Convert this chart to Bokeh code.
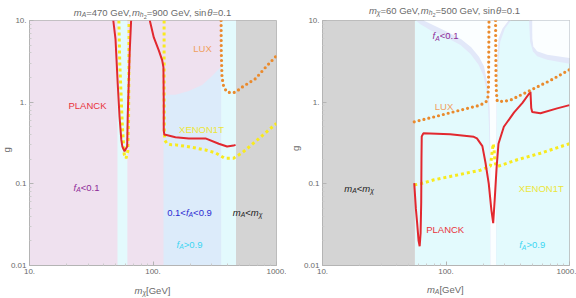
import math

from bokeh.plotting import figure
from bokeh.models import FixedTicker, CustomJSTickFormatter
from bokeh.core.properties import value
from bokeh.layouts import row
from bokeh.embed import file_html
from bokeh.resources import INLINE

# ---------------- axis ticks ----------------
x_ticks = [10, 100, 1000]
x_tick_labels = ["10.", "100.", "1000."]
y_ticks = [0.01, 0.1, 1, 10]
y_tick_labels = ["0.01", "0.1", "1.", "10."]

# ---------------- left panel: scan in m_chi ----------------
left_mA = 470
left_pole_band = [51.6, 62.0]          # f_A>0.9 sliver at the h1 pole
left_mixed_x = [121.6, 152, 195, 250, 301, 341, 356]
left_mixed_top = [1.23, 1.23, 1.37, 1.62, 2.09, 2.54, 2.7]
left_high_band = [356, 470]

left_planck_a_x = [47.7, 49.7, 51.8, 53.6, 55.4, 56.5, 58.8, 61.8, 62.4, 63.6, 64.8, 66.5]
left_planck_a_y = [10, 5.93, 1.68, 0.66, 0.345, 0.286, 0.25, 0.286, 0.66, 1.68, 4.28, 10]
left_planck_b_x = [94.2, 101.5, 111.4, 118.6, 121.5, 122.2, 122.2, 123.5, 126, 152, 195, 266, 341, 398, 449, 466]
left_planck_b_y = [10, 6.2, 4.3, 3.27, 2.68, 1.0, 0.45, 0.40, 0.40, 0.372, 0.36, 0.36, 0.31, 0.286, 0.294, 0.30]

left_xenon_a_x = [52.9, 53.8, 54.7, 56.5, 58.5, 60.5, 62.5, 63.4, 63.8, 64.0]
left_xenon_a_y = [10, 3.0, 1.68, 0.5, 0.23, 0.205, 0.25, 0.6, 2.5, 10]
left_xenon_b_x = [123, 123, 123.5, 125, 130, 142, 152, 194, 266, 320, 379, 449, 527, 676, 1000]
left_xenon_b_y = [10, 1.0, 0.42, 0.34, 0.31, 0.30, 0.30, 0.285, 0.26, 0.24, 0.206, 0.206, 0.24, 0.33, 0.55]

left_lux_x = [356, 357, 362, 374, 398, 437, 468, 527, 676, 819, 1000]
left_lux_y = [10, 4.3, 2.03, 1.53, 1.33, 1.30, 1.33, 1.53, 1.94, 2.69, 3.7]

# ---------------- right panel: scan in m_A ----------------
right_mchi_edge = 56
right_funnel_band_x = [57, 62, 75, 99, 131, 158, 183, 201, 213, 219, 223, 226, 228,
                       255, 257, 259, 265, 275, 300, 335]
right_funnel_band_y = [10, 9.0, 7.6, 6.3, 5.0, 3.9, 2.9, 2.1, 1.4, 0.9, 0.5, 0.2, 0.01,
                       0.01, 0.5, 1.5, 3.0, 5.5, 8.0, 10]
right_funnel_x = [66, 80, 102, 133, 160, 185, 203, 214, 222, 226, 228, 229,
                  254, 255, 256, 257, 261, 266, 287, 321]
right_funnel_y = [10, 8.7, 7.3, 5.9, 4.7, 3.6, 2.75, 1.85, 1.22, 0.8, 0.3, 0.01,
                  0.01, 0.3, 0.8, 1.85, 3.74, 6.03, 7.99, 10]
right_corner_band_x = [470, 480, 505, 547, 659, 1000, 1000]
right_corner_band_y = [10, 5.5, 4.2, 3.65, 3.3, 2.95, 10]
right_corner_x = [499, 500, 510, 547, 659, 1000, 1000]
right_corner_y = [10, 6.0, 4.8, 4.19, 3.82, 3.47, 10]

right_planck_x = [55.3, 57.0, 58.4, 60.0, 61.2, 62.3, 63.0, 63.3, 63.6, 65.5, 108, 168, 178, 197,
                  209, 222, 233, 241, 248, 257, 266, 294, 356, 416, 483, 490, 499, 582, 794, 1000]
right_planck_y = [0.102, 0.05, 0.033, 0.02, 0.0172, 0.025, 0.06, 0.2, 0.38, 0.415, 0.405, 0.376, 0.36, 0.29,
                  0.18, 0.10, 0.048, 0.033, 0.064, 0.16, 0.31, 0.5, 0.75, 0.98, 1.34, 0.85, 0.76, 0.73, 0.84, 0.92]

right_xenon_x = [55.3, 62, 80, 123, 190, 229, 236, 241, 245, 249, 254, 260, 377, 582, 1000]
right_xenon_y = [0.097, 0.10, 0.112, 0.128, 0.147, 0.165, 0.24, 0.31, 0.26, 0.19, 0.165, 0.163, 0.197, 0.237, 0.31]

right_lux_a_x = [55.3, 80, 131, 190, 212, 218, 221, 222, 223]
right_lux_a_y = [0.575, 0.66, 0.80, 0.92, 1.02, 1.11, 1.6, 4.0, 10]
right_lux_b_x = [252, 253, 254, 256, 260, 290, 333, 483, 702, 1000]
right_lux_b_y = [10, 4.0, 2.0, 1.3, 1.03, 1.02, 1.06, 1.4, 1.85, 2.5]

# ---------------- styling ----------------
FONT = "Liberation Sans"
PINK = "#efe1ef"
MIXED = "#dcebfa"
CYAN = "#e3fafd"
GRAY = "#d4d4d4"
BAND = "#e2e8f9"
WHITE = "#fbfeff"
RED = "#e2282f"
ORANGE = "#ea8a2c"
YELLOW = "#f8ea1e"
AXIS_TEXT = "#6a6a6a"

# Arial / Liberation Sans advance widths (em) for run layout
ADV = {" ": .278, ",": .278, ".": .278, "=": .584, "<": .584, ">": .584, "[": .278, "]": .278,
       "A": .667, "C": .722, "E": .667, "G": .778, "K": .667, "L": .556, "N": .722, "O": .778,
       "P": .667, "T": .611, "U": .722, "V": .667, "X": .667, "e": .556, "f": .278, "h": .556,
       "i": .222, "m": .833, "n": .556, "s": .5, "g": .556, "θ": .556, "χ": .52}
LEVEL_SCALE = [1.0, 0.72, 0.58]
LEVEL_DROP = [0.0, 2.4, 4.2]


def text_width(s, size):
    return sum(ADV.get(c, .556) for c in s) * size


def to_data(frame, fx, fy):
    left, top, w, h = frame
    return 10 ** (1 + 2 * (fx - left) / w), 10 ** (1 - 3 * (fy - top) / h)


def put_text(p, x, y, t, size, style, color, align="left", baseline="alphabetic", angle=0.0):
    r = p.text(x=[x], y=[y], text=[t], text_font=value(FONT), text_font_size=value(f"{size:.1f}px"),
               text_font_style=style, text_color=color, text_align=align,
               text_baseline=baseline, angle=angle)
    r.level = "overlay"
    return r


def rich_text(p, frame, runs, cx, cy, color, size=9.5):
    widths = [text_width(t, size * LEVEL_SCALE[lv]) for t, _, lv in runs]
    fx = cx - sum(widths) / 2
    base = cy + 0.36 * size
    for (t, italic, lv), w in zip(runs, widths):
        xd, yd = to_data(frame, fx, base + LEVEL_DROP[lv])
        put_text(p, xd, yd, t, size * LEVEL_SCALE[lv], "italic" if italic else "normal", color)
        fx += w


def y_label(p, frame, fx, fy):
    # vertical axis title, reading bottom to top
    xd, yd = to_data(frame, fx, fy)
    put_text(p, xd, yd, "g", 9.5, "normal", AXIS_TEXT, align="left", baseline="alphabetic",
             angle=math.pi / 2)


def make_panel(width, height, frame, right_border):
    left, top, w, h = frame
    p = figure(width=width, height=height, x_axis_type="log", y_axis_type="log",
               x_range=(10, 1000), y_range=(0.01, 10), output_backend="svg",
               toolbar_location=None, min_border_left=left, min_border_right=right_border,
               min_border_top=top, min_border_bottom=height - top - h)
    p.grid.visible = False
    p.outline_line_color = "#b4b4b4"
    p.background_fill_color = "white"
    p.border_fill_color = "white"
    minor = [m * 10 ** k for k in (1, 2) for m in range(2, 10)]
    p.xaxis.ticker = FixedTicker(ticks=x_ticks, minor_ticks=minor)
    p.yaxis.ticker = FixedTicker(ticks=y_ticks, minor_ticks=[m * 10 ** k for k in (-2, -1, 0) for m in range(2, 10)])
    code = ("const i = tv.findIndex(t => Math.abs(Math.log10(t) - Math.log10(tick)) < 1e-6);"
            "return i >= 0 ? tl[i] : '';")
    p.xaxis.formatter = CustomJSTickFormatter(args=dict(tv=x_ticks, tl=x_tick_labels), code=code)
    p.yaxis.formatter = CustomJSTickFormatter(args=dict(tv=y_ticks, tl=y_tick_labels), code=code)
    for ax in (p.xaxis[0], p.yaxis[0]):
        ax.axis_line_color = "#b4b4b4"
        ax.major_tick_in = 4
        ax.major_tick_out = 0
        ax.minor_tick_in = 2
        ax.minor_tick_out = 0
        ax.major_tick_line_color = "#b4b4b4"
        ax.minor_tick_line_color = "#cccccc"
        ax.major_label_text_font = FONT
        ax.major_label_text_font_size = "8px"
        ax.major_label_text_color = AXIS_TEXT
        ax.major_label_standoff = 3
    return p


def dotted(p, x, y, color, kind):
    if kind == "round":
        p.line(x, y, line_color=color, line_width=3.2, line_dash="0 5", line_cap="round")
    else:
        p.line(x, y, line_color=color, line_width=3, line_dash="3 3", line_cap="butt")


I, N = True, False

# ================= left panel =================
LF = (29, 18, 247, 247)
p1 = make_panel(286, 298, LF, 10)
p1.quad(left=[10], right=[left_mA], bottom=[0.01], top=[10], fill_color=PINK, line_color=None)
p1.quad(left=[left_pole_band[0]], right=[left_pole_band[1]], bottom=[0.01], top=[10], fill_color=CYAN, line_color=None)
p1.varea(x=left_mixed_x, y1=[0.01] * len(left_mixed_x), y2=left_mixed_top, fill_color=MIXED)
p1.quad(left=[left_high_band[0]], right=[left_high_band[1]], bottom=[0.01], top=[10], fill_color=CYAN, line_color=None)
p1.quad(left=[left_mA], right=[1000], bottom=[0.01], top=[10], fill_color=GRAY, line_color=None)

dotted(p1, left_xenon_a_x, left_xenon_a_y, YELLOW, "square")
dotted(p1, left_xenon_b_x, left_xenon_b_y, YELLOW, "square")
p1.line(left_planck_a_x, left_planck_a_y, line_color=RED, line_width=2)
p1.line(left_planck_b_x, left_planck_b_y, line_color=RED, line_width=2)
dotted(p1, left_lux_x, left_lux_y, ORANGE, "round")

rich_text(p1, LF, [("m", I, 0), ("A", I, 1), ("=470 GeV,", N, 0), ("m", I, 0), ("h", I, 1), ("2", N, 2),
                   ("=900 GeV, sin", N, 0), ("θ", I, 0), ("=0.1", N, 0)], 152, 6.5, AXIS_TEXT)
rich_text(p1, LF, [("PLANCK", N, 0)], 87, 100, "#e8333b")
rich_text(p1, LF, [("LUX", N, 0)], 202, 43, "#f0a060")
rich_text(p1, LF, [("XENON1T", N, 0)], 201, 124, "#ece63a")
rich_text(p1, LF, [("f", I, 0), ("A", I, 1), ("<0.1", N, 0)], 86, 183, "#8e2a98")
rich_text(p1, LF, [("0.1<", N, 0), ("f", I, 0), ("A", I, 1), ("<0.9", N, 0)], 189, 208, "#2c2cd2")
rich_text(p1, LF, [("m", I, 0), ("A", I, 1), ("<", N, 0), ("m", I, 0), ("χ", I, 1)], 247, 208, "#1e1e1e")
rich_text(p1, LF, [("f", I, 0), ("A", I, 1), (">0.9", N, 0)], 189, 240, "#3cd6f2")
rich_text(p1, LF, [("m", I, 0), ("χ", I, 1), ("[GeV]", N, 0)], 152, 286.5, AXIS_TEXT)
y_label(p1, LF, 6, 151)

# ================= right panel =================
RF = (36, 20, 247, 246)
p2 = make_panel(290, 298, RF, 7)
p2.quad(left=[right_mchi_edge], right=[1000], bottom=[0.01], top=[10], fill_color=CYAN, line_color=None)
p2.patch(right_funnel_band_x, right_funnel_band_y, fill_color=BAND, line_color=None)
p2.patch(right_funnel_x, right_funnel_y, fill_color=WHITE, line_color=None)
p2.patch(right_corner_band_x, right_corner_band_y, fill_color=BAND, line_color=None)
p2.patch(right_corner_x, right_corner_y, fill_color=WHITE, line_color=None)
p2.quad(left=[10], right=[right_mchi_edge], bottom=[0.01], top=[10], fill_color=GRAY, line_color=None)

dotted(p2, right_xenon_x, right_xenon_y, YELLOW, "square")
p2.line(right_planck_x, right_planck_y, line_color=RED, line_width=2)
dotted(p2, right_lux_a_x, right_lux_a_y, ORANGE, "round")
dotted(p2, right_lux_b_x, right_lux_b_y, ORANGE, "round")

rich_text(p2, RF, [("m", I, 0), ("χ", I, 1), ("=60 GeV,", N, 0), ("m", I, 0), ("h", I, 1), ("2", N, 2),
                   ("=500 GeV, sin", N, 0), ("θ", I, 0), ("=0.1", N, 0)], 158, 6.5, AXIS_TEXT)
rich_text(p2, RF, [("f", I, 0), ("A", I, 1), ("<0.1", N, 0)], 159, 32, "#8e2a98")
rich_text(p2, RF, [("LUX", N, 0)], 157.5, 102.5, "#f0a060")
rich_text(p2, RF, [("PLANCK", N, 0)], 158.7, 226.7, "#e8333b")
rich_text(p2, RF, [("XENON1T", N, 0)], 254.8, 185, "#ece63a")
rich_text(p2, RF, [("f", I, 0), ("A", I, 1), (">0.9", N, 0)], 245.7, 241.7, "#3cd6f2")
rich_text(p2, RF, [("m", I, 0), ("A", I, 1), ("<", N, 0), ("m", I, 0), ("χ", I, 1)], 72.5, 185, "#1e1e1e")
rich_text(p2, RF, [("m", I, 0), ("A", I, 1), ("[GeV]", N, 0)], 158.8, 286.5, AXIS_TEXT)
y_label(p2, RF, 9, 151)

layout = row(p1, p2)
open("out.html", "w").write(file_html(layout, INLINE))
